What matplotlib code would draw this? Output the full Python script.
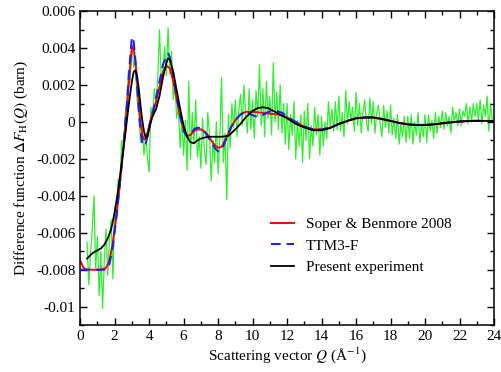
import numpy as np
import matplotlib
matplotlib.use('Agg')
import matplotlib.pyplot as plt
from matplotlib.ticker import MultipleLocator

plt.rcParams['font.family'] = ['Liberation Serif', 'DejaVu Serif']
plt.rcParams['mathtext.fontset'] = 'stix'
plt.rcParams['font.size'] = 11

# raw experimental difference function (green), Q from 0.4 to 23.9 step 0.1, units 1e-4 barn
q_raw = np.round(np.arange(4, 240) * 0.1, 1)
raw_1e4 = [
    -65, -88, -72, -58, -40, -79, -62, -94, -70, -101, -75, -58, -83, -64, -53, -85,
    -46, -53, -31, -36, -10, -18, 3, 10, 28, 22,
    42, 30, 33, 12, 5, -11, -3, -18, -6, -19,
    -27, 8, 3, 18, 10, 24, 50, 22, 27, 41,
    25, 51, 26, 38, 12, 20, 2, 8, -14, 3,
    -18, 1, -26, 22, -20, 5, -12, 12, -19, -8,
    -25, 2, -15, -23, 5, -6, -32, -10, -22, 0,
    -28, -9, 24, -22, -6, -42, 4, -14, 10, -3,
    12, -8, 6, 15, -2, 20, 4, -6, 18, -4,
    12, -9, 17, 3, 31, -2, 18, -8, 22, 2,
    14, -7, 32, 0, 16, -4, 20, -6, 10, -12,
    10, -15, 4, -7, 11, -20, 1, -13, 4, -22,
    6, -10, 10, -20, -2, -13, 8, -7, 4, -18,
    3, -13, 0, -9, 11, -3, 7, -5, 11, -4,
    14, -5, 5, -8, 17, -1, 11, 1, 8, -5,
    16, -2, 10, -6, 5, 12, 0, -5, 13, -1,
    11, -6, 5, 9, -1, -8, 9, -3, 6, -6,
    9, -7, 2, -9, 4, -12, -1, -8, 3, -11,
    3, -9, 4, -12, 0, -7, 5, -11, -1, -8,
    4, -11, 4, -5, 1, -9, 5, -6, 3, -3,
    6, -4, 5, -2, 3, -6, 8, 0, 5, -2,
    7, -2, 6, 3, 10, -1, 8, 0, 10, 3,
    10, 1, 12, -1, 9, 3, 14, -5, 10, 1,
]

# Soper & Benmore 2008 (red)
q_sb = [0.0, 0.2, 0.4, 0.8, 1.2, 1.5, 1.7, 1.9, 2.1, 2.3, 2.5, 2.7, 2.9, 3.0, 3.1, 3.2,
        3.3, 3.4, 3.5, 3.6, 3.7, 3.8, 3.9, 4.0, 4.2, 4.4, 4.6, 4.8, 5.0, 5.2, 5.4, 5.6,
        5.8, 6.0, 6.2, 6.4, 6.6, 6.8, 7.0, 7.2, 7.4, 7.6, 7.8, 8.0, 8.2, 8.4, 8.6, 8.8,
        9.0, 9.3, 9.6, 10.0, 10.5, 11.0, 11.5, 12.0, 12.5, 13.0, 13.5, 14.0, 14.5, 15.0,
        15.5, 16.0, 16.5, 17.0, 17.5, 18.0, 18.5, 19.0, 19.5, 20.0, 20.5, 21.0, 21.5,
        22.0, 22.5, 23.0, 23.5, 24.0]
sb_1e4 = [-75, -79, -80, -80, -80, -79, -75, -65, -51, -34, -15, 6, 30, 41, 40, 33,
          22, 10, 0, -7, -9.5, -9, -6, -2, 5, 11, 19, 27, 30.5, 29, 22, 12,
          3, -4, -7.5, -7, -5, -4, -4, -5, -7, -10, -12.5, -14, -13.5, -10, -6, -2,
          1, 4, 5.5, 5.5, 5, 4.5, 4, 2.5, 0, -2.5, -4, -4, -3, -1,
          0.5, 2, 2.3, 2.3, 1.5, 0.5, -0.5, -1.2, -1.6, -1.6, -1.3, -0.8, -0.3,
          0.2, 0.5, 0.6, 0.6, 0.5]

# TTM3-F (blue dashed)
q_ttm = [0.0, 0.5, 1.0, 1.5, 1.7, 1.9, 2.1, 2.3, 2.5, 2.7, 2.9, 3.0, 3.1, 3.2, 3.3, 3.4,
         3.5, 3.6, 3.7, 3.8, 3.9, 4.0, 4.2, 4.4, 4.6, 4.8, 5.0, 5.1, 5.2, 5.4, 5.6, 5.8,
         6.0, 6.2, 6.4, 6.6, 6.8, 7.0, 7.2, 7.4, 7.6, 7.8, 8.0, 8.2, 8.4, 8.6, 8.8, 9.0,
         9.3, 9.6, 9.9, 10.2, 10.5, 10.8, 11.1, 11.4, 11.7, 12.0, 12.5, 13.0, 13.5, 14.0,
         14.5, 15.0, 15.5, 16.0, 16.5, 17.0, 17.5, 18.0, 18.5, 19.0, 19.5, 20.0, 20.5,
         21.0, 21.5, 22.0, 22.5, 23.0, 23.5, 24.0]
ttm_1e4 = [-80, -80, -80, -80, -77, -67, -52, -34, -14, 9, 35, 46, 44, 34, 20, 6,
           -5, -11, -13, -12, -8, -3, 5, 13, 22, 31, 36, 37, 35, 26, 14, 3,
           -5, -8, -7, -4, -3, -3.5, -5, -8, -11, -14, -16, -15, -11, -6, -2, 1,
           4, 6, 4, 3, 3, 5, 6, 6, 5, 3, 0, -2.5, -4, -4.2,
           -3, -1, 0.7, 2, 2.4, 2.4, 1.6, 0.5, -0.6, -1.3, -1.7, -1.6, -1.2,
           -0.6, -0.1, 0.3, 0.6, 0.7, 0.6, 0.5]

# Present experiment (black)
q_exp = [0.4, 0.6, 0.8, 1.0, 1.2, 1.4, 1.6, 1.8, 2.0, 2.2, 2.4, 2.6, 2.8, 3.0, 3.1, 3.2,
         3.3, 3.4, 3.5, 3.6, 3.7, 3.8, 3.9, 4.0, 4.1, 4.2, 4.4, 4.6, 4.8, 5.0, 5.1, 5.2,
         5.4, 5.6, 5.8, 6.0, 6.2, 6.4, 6.6, 6.8, 7.0, 7.4, 7.8, 8.2, 8.6, 9.0, 9.3, 9.6,
         10.0, 10.3, 10.6, 10.9, 11.2, 11.6, 12.0, 12.5, 13.0, 13.5, 14.0, 14.5, 15.0,
         15.5, 16.0, 16.5, 17.0, 17.5, 18.0, 18.5, 19.0, 19.5, 20.0, 20.5, 21.0, 21.5,
         22.0, 22.5, 23.0, 23.5, 24.0]
exp_1e4 = [-74, -72, -70.5, -69.5, -68.5, -66.5, -63, -58, -49, -37, -23, -8, 8, 22, 27, 28,
           25, 18, 9, 1, -5, -8.5, -8, -4, 0, 3, 7, 14, 24, 32, 34.5, 34,
           27, 17, 7, -2, -8, -11, -11.5, -10, -9, -8, -8, -8, -7.5, -4, -1, 2.5,
           6, 7.5, 8, 7.5, 6, 4, 2, -1, -3, -4.5, -4.5, -3.3, -1.2,
           0.6, 2, 2.5, 2.5, 1.7, 0.6, -0.5, -1.3, -1.7, -1.7, -1.3, -0.7, -0.2,
           0.2, 0.5, 0.6, 0.6, 0.5]

scale = 1e-4  # values above are in units of 1e-4 barn

fig = plt.figure(figsize=(5.01, 3.72), dpi=100)
ax = fig.add_axes([0.160, 0.126, 0.826, 0.844])

ax.plot(q_raw, np.array(raw_1e4) * scale, color='#2cf02c', lw=0.9, zorder=1)
ax.plot(q_sb, np.array(sb_1e4) * scale, color='red', lw=1.4, label='Soper & Benmore 2008', zorder=2)
ax.plot(q_ttm, np.array(ttm_1e4) * scale, color='#1a1aff', lw=1.4, ls=(0, (5, 3)), label='TTM3-F', zorder=3)
ax.plot(q_exp, np.array(exp_1e4) * scale, color='black', lw=1.3, label='Present experiment', zorder=4)

ax.set_xlim(0, 24)
ax.set_ylim(-0.011, 0.006)
ax.xaxis.set_major_locator(MultipleLocator(2))
ax.xaxis.set_minor_locator(MultipleLocator(1))
ax.yaxis.set_minor_locator(MultipleLocator(0.001))
ax.set_yticks([0.006, 0.004, 0.002, 0, -0.002, -0.004, -0.006, -0.008, -0.01])
ax.set_yticklabels(['0.006', '0.004', '0.002', '0', '-0.002', '-0.004', '-0.006', '-0.008', '-0.01'])
ax.tick_params(which='both', direction='in', top=True, right=True, labelsize=11)
ax.tick_params(which='major', length=5, width=1)
ax.tick_params(which='minor', length=3, width=1)
for s in ax.spines.values():
    s.set_linewidth(1.1)

ax.set_xlabel(r'Scattering vector $Q$ (Å$^{-1}$)', fontsize=11, labelpad=2)
ax.set_ylabel(r'Difference function $\Delta F_{\rm H}(Q)$ (barn)', fontsize=11, labelpad=4)

ax.legend(loc='upper left', bbox_to_anchor=(0.447, 0.362), frameon=False, fontsize=11,
          handlelength=1.5, handletextpad=0.75, labelspacing=0.5, borderaxespad=0)

fig.savefig('out.png', dpi=100)
